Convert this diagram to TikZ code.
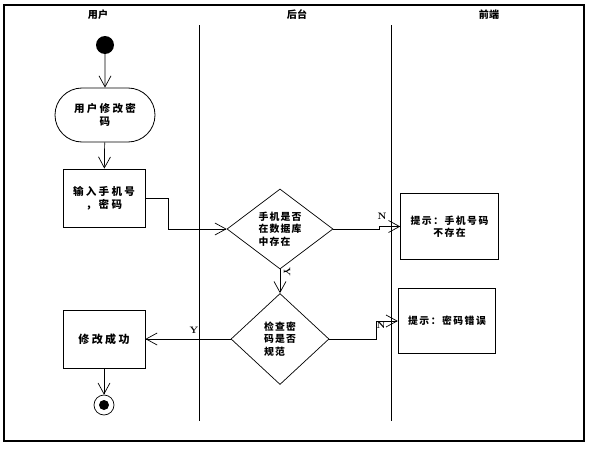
\documentclass[tikz,border=0pt]{standalone}
\usepackage{fontspec}
\usepackage{tikz}
\usetikzlibrary{positioning,arrows.meta,shapes.geometric,shapes.misc}
\newfontfamily\cjk{Noto Sans CJK SC}
\newcommand{\cjkfont}[2]{\cjk\bfseries\fontsize{#1}{#2}\selectfont}

\begin{document}
\begin{tikzpicture}[
    x=0.03cm, y=-0.03cm,
    every node/.style={inner sep=0pt},
    flow/.style={-{Straight Barb[length=3.3mm,width=3.6mm]}, line width=0.6pt},
    lane/.style={line width=0.8pt},
    header/.style={font={\cjkfont{8.6}{10}}},
    stepbox/.style={draw, line width=0.7pt, align=center,
      font={\cjkfont{9}{11.5}\addfontfeature{LetterSpace=22}}},
    tipbox/.style={draw, line width=0.7pt, align=center,
      minimum width=2.93cm, minimum height=1.97cm,
      font={\cjkfont{8.4}{10.5}\addfontfeature{LetterSpace=15}}},
    decision/.style={draw, diamond, line width=0.6pt, align=left,
      font={\cjkfont{8.4}{10.8}\addfontfeature{LetterSpace=12}}},
    guard/.style={font=\bfseries\footnotesize},
  ]
    % Frame and page margins
    \useasboundingbox (0,0) rectangle (591,448);
    \draw[line width=2pt] (4,5) rectangle (584,441);

    % Swimlane headers and separators
    \node[header] (hUser) at (98,15) {用户};
    \node[header] (hBack) at (297,15) {后台};
    \node[header] (hFront) at (489,15) {前端};
    \draw[lane] (199,25) -- (199,421);
    \draw[lane] (391,25) -- (391,421);

    % --- user lane
    \node[circle, fill, minimum size=0.54cm] (start) at (105,45) {};
    \node[stepbox, rounded rectangle, minimum width=3cm, minimum height=1.62cm]
      (edit) at (105,115) {用户修改密\\码};
    \node[stepbox, minimum width=2.46cm, minimum height=1.74cm]
      (input) at (104,198) {输入手机号\\，密码};
    \node[stepbox, minimum width=2.46cm, minimum height=1.74cm,
      font={\cjkfont{9.4}{11.5}\addfontfeature{LetterSpace=22}}]
      (done) at (104,339) {修改成功};
    \node[circle, draw, line width=0.6pt, minimum size=0.6cm] (stop) at (104,405) {};
    \node[circle, fill, minimum size=0.3cm] (stopdot) at (stop) {};

    % --- back-end lane
    \node[decision, minimum width=3.18cm, minimum height=2.4cm]
      (chkPhone) at (280,229) {手机是否\\在数据库\\中存在};
    \node[decision, minimum width=2.94cm, minimum height=2.73cm]
      (chkPwd) at (280,339) {检查密\\码是否\\规范};

    % --- front-end lane
    \node[tipbox] (noPhone) at (449.5,226.5) {提示：手机号码\\不存在};
    \node[tipbox] (badPwd) at (447,321) {提示：密码错误};

    % Bend points
    \coordinate (bendIn) at (168,198);
    \coordinate (bendN1) at (379,229);
    \coordinate (bendN2) at (376,339);

    % Connectors
    \draw[flow] (start) -- (edit);
    \draw[flow] (edit) -- (input);
    \draw[flow] (input.east) -- (bendIn) |- (chkPhone.west);
    \draw[flow] (chkPhone.east) -- (bendN1) |- (noPhone.west);
    \draw[flow] (chkPhone.south) -- (chkPwd.north);
    \draw[flow] (chkPwd.east) -- (bendN2) |- (badPwd.west);
    \draw[flow] (chkPwd.west) -- (done.east);
    \draw[flow] (done) -- (stop);

    % Guard labels
    \node[guard] (gN1) at (382,216) {N};
    \node[guard, rotate=-90] (gY1) at (287,272) {Y};
    \node[guard] (gN2) at (381,325) {N};
    \node[guard] (gY2) at (194,330) {Y};
  \end{tikzpicture}
\end{document}
